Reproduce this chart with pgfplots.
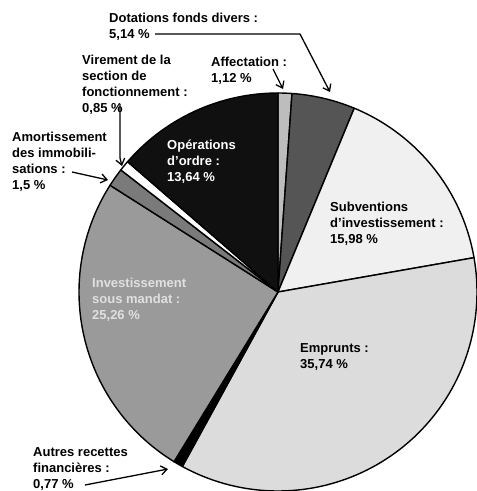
\documentclass[border=0pt]{standalone}
\usepackage{pgfplots}
\pgfplotsset{compat=1.18}
\usetikzlibrary{arrows.meta}
\usepackage{fontspec}
\setmainfont{Liberation Sans}

\definecolor{cAff}{HTML}{BDBDBD}
\definecolor{cDot}{HTML}{555555}
\definecolor{cSub}{HTML}{F0F0F0}
\definecolor{cEmp}{HTML}{DCDCDC}
\definecolor{cAut}{HTML}{000000}
\definecolor{cInv}{HTML}{9A9A9A}
\definecolor{cAmo}{HTML}{7A7A7A}
\definecolor{cVir}{HTML}{FFFFFF}
\definecolor{cOpe}{HTML}{101010}

\tikzset{
  slice/.style={draw=black, line width=1.4bp, line join=round},
  lab/.style={anchor=north west, inner sep=0pt, align=left,
    font=\fontsize{13bp}{16bp}\selectfont\bfseries},
  arr/.style={line width=1.3bp, -{Straight Barb[length=6bp,width=9bp]}},
}

\begin{document}
\begin{tikzpicture}
% parts in percent, clockwise from the top
\pgfmathsetmacro\tA{0}
\pgfmathsetmacro\tB{\tA+3.6*1.12}  % Affectation
\pgfmathsetmacro\tC{\tB+3.6*5.14}  % Dotations fonds divers
\pgfmathsetmacro\tD{\tC+3.6*15.98} % Subventions
\pgfmathsetmacro\tE{\tD+3.6*35.74} % Emprunts
\pgfmathsetmacro\tF{\tE+3.6*0.77}  % Autres recettes
\pgfmathsetmacro\tG{\tF+3.6*25.26} % Investissement sous mandat
\pgfmathsetmacro\tH{\tG+3.6*1.5}   % Amortissement
\pgfmathsetmacro\tI{\tH+3.6*0.85}  % Virement
\pgfmathsetmacro\tJ{\tI+3.6*13.64} % Operations d'ordre
\begin{axis}[
    width=477bp, height=491bp, scale only axis,
    xmin=0, xmax=477, ymin=0, ymax=491, y dir=reverse,
    hide axis, clip=false, samples=80,
  ]
  \addplot[slice, fill=cAff, domain=\tA:\tB] ({278+199*sin(x)},{292-199*cos(x)}) -- (axis cs:278,292) -- cycle;
  \addplot[slice, fill=cDot, domain=\tB:\tC] ({278+199*sin(x)},{292-199*cos(x)}) -- (axis cs:278,292) -- cycle;
  \addplot[slice, fill=cSub, domain=\tC:\tD] ({278+199*sin(x)},{292-199*cos(x)}) -- (axis cs:278,292) -- cycle;
  \addplot[slice, fill=cEmp, domain=\tD:\tE] ({278+199*sin(x)},{292-199*cos(x)}) -- (axis cs:278,292) -- cycle;
  \addplot[slice, fill=cAut, domain=\tE:\tF] ({278+199*sin(x)},{292-199*cos(x)}) -- (axis cs:278,292) -- cycle;
  \addplot[slice, fill=cInv, domain=\tF:\tG] ({278+199*sin(x)},{292-199*cos(x)}) -- (axis cs:278,292) -- cycle;
  \addplot[slice, fill=cAmo, domain=\tG:\tH] ({278+199*sin(x)},{292-199*cos(x)}) -- (axis cs:278,292) -- cycle;
  \addplot[slice, fill=cVir, domain=\tH:\tI] ({278+199*sin(x)},{292-199*cos(x)}) -- (axis cs:278,292) -- cycle;
  \addplot[slice, fill=cOpe, domain=\tI:\tJ] ({278+199*sin(x)},{292-199*cos(x)}) -- (axis cs:278,292) -- cycle;

  % labels
  \node[lab] at (axis cs:109,13) {Dotations fonds divers :\\5,14 \%};
  \node[lab] at (axis cs:211,57) {Affectation :\\1,12 \%};
  \node[lab] at (axis cs:82,55) {Virement de la\\section de\\fonctionnement :\\0,85 \%};
  \node[lab] at (axis cs:12,132) {Amortissement\\des immobili-\\sations :\\1,5 \%};
  \node[lab, text=white] at (axis cs:167,140) {Opérations\\d'ordre :\\13,64 \%};
  \node[lab] at (axis cs:330,202) {Subventions\\d'investissement :\\15,98 \%};
  \node[lab] at (axis cs:300,343) {Emprunts :\\35,74 \%};
  \node[lab, text=white!88!black] at (axis cs:92,278) {Investissement\\sous mandat :\\25,26 \%};
  \node[lab] at (axis cs:33,447) {Autres recettes\\financières :\\0,77 \%};

  % leader arrows
  \draw[arr] (axis cs:155,34) -- (axis cs:300,34) -- (axis cs:330,92);
  \draw[arr] (axis cs:273,69) -- (axis cs:283,89);
  \draw[arr] (axis cs:120,104) -- (axis cs:120,158) -- (axis cs:122,166);
  \draw[arr] (axis cs:72,172) -- (axis cs:108,180);
  \draw[arr] (axis cs:85,485) -- (axis cs:168,469);
\end{axis}
\pgfresetboundingbox
\path (current axis.south west) rectangle (current axis.north east);
\end{tikzpicture}
\end{document}
